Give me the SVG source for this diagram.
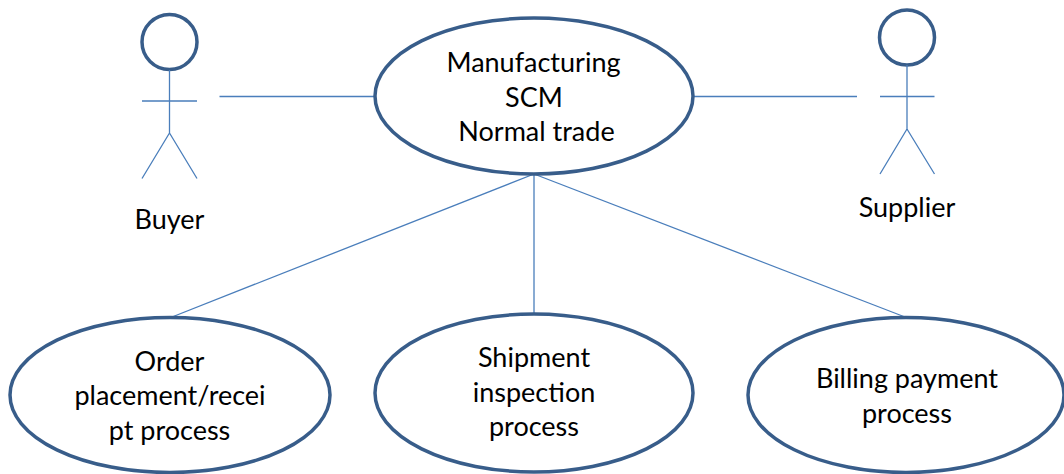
<svg xmlns="http://www.w3.org/2000/svg" width="1064" height="474" viewBox="0 0 1064 474">
<style>
.e{fill:#fff;stroke:#385d8a;stroke-width:3.500}
.h{fill:#fff;stroke:#385d8a;stroke-width:3.500}
.l{fill:none;stroke:#4a7ebb;stroke-width:1.300}
text{font-family:"Lato","Carlito","Liberation Sans",sans-serif;font-size:27px;fill:#000;text-anchor:middle}
</style>
<rect width="1064" height="474" fill="#fff"/>
<g id="connectors">
<line class="l" x1="219.500" y1="96.500" x2="375" y2="96.500"/>
<line class="l" x1="693" y1="96.500" x2="857" y2="96.500"/>
<line class="l" x1="534" y1="174" x2="172" y2="317"/>
<line class="l" x1="534" y1="174" x2="534" y2="314"/>
<line class="l" x1="534" y1="174" x2="905" y2="317"/>
</g>
<g id="buyer">
<circle class="h" cx="169.500" cy="42" r="27.500"/>
<path class="l" d="M169.500 70V133M142 101H197M169.500 133L142 178.500M169.500 133L197 178.500"/>
<text x="169.500" y="229">Buyer</text>
</g>
<g id="supplier">
<circle class="h" cx="907" cy="37.500" r="27.500"/>
<path class="l" d="M907 65V129M880 96.500H934.500M907 129L880 174M907 129L934.500 174"/>
<text x="907" y="217">Supplier</text>
</g>
<g id="scm">
<ellipse class="e" cx="534" cy="96" rx="159" ry="78"/>
<text x="533.500" y="72">Manufacturing</text>
<text x="534" y="107">SCM</text>
<text x="536.500" y="141">Normal trade</text>
</g>
<g id="order">
<ellipse class="e" cx="170" cy="395" rx="160" ry="77.500"/>
<text x="169.500" y="371">Order</text>
<text x="170" y="405">placement/recei</text>
<text x="169.500" y="440">pt process</text>
</g>
<g id="shipment">
<ellipse class="e" cx="534" cy="393" rx="159" ry="79"/>
<text x="534" y="367">Shipment</text>
<text x="534" y="402">inspection</text>
<text x="534" y="436">process</text>
</g>
<g id="billing">
<ellipse class="e" cx="906" cy="395" rx="158" ry="77.500"/>
<text x="907" y="388">Billing payment</text>
<text x="907" y="423">process</text>
</g>
</svg>
